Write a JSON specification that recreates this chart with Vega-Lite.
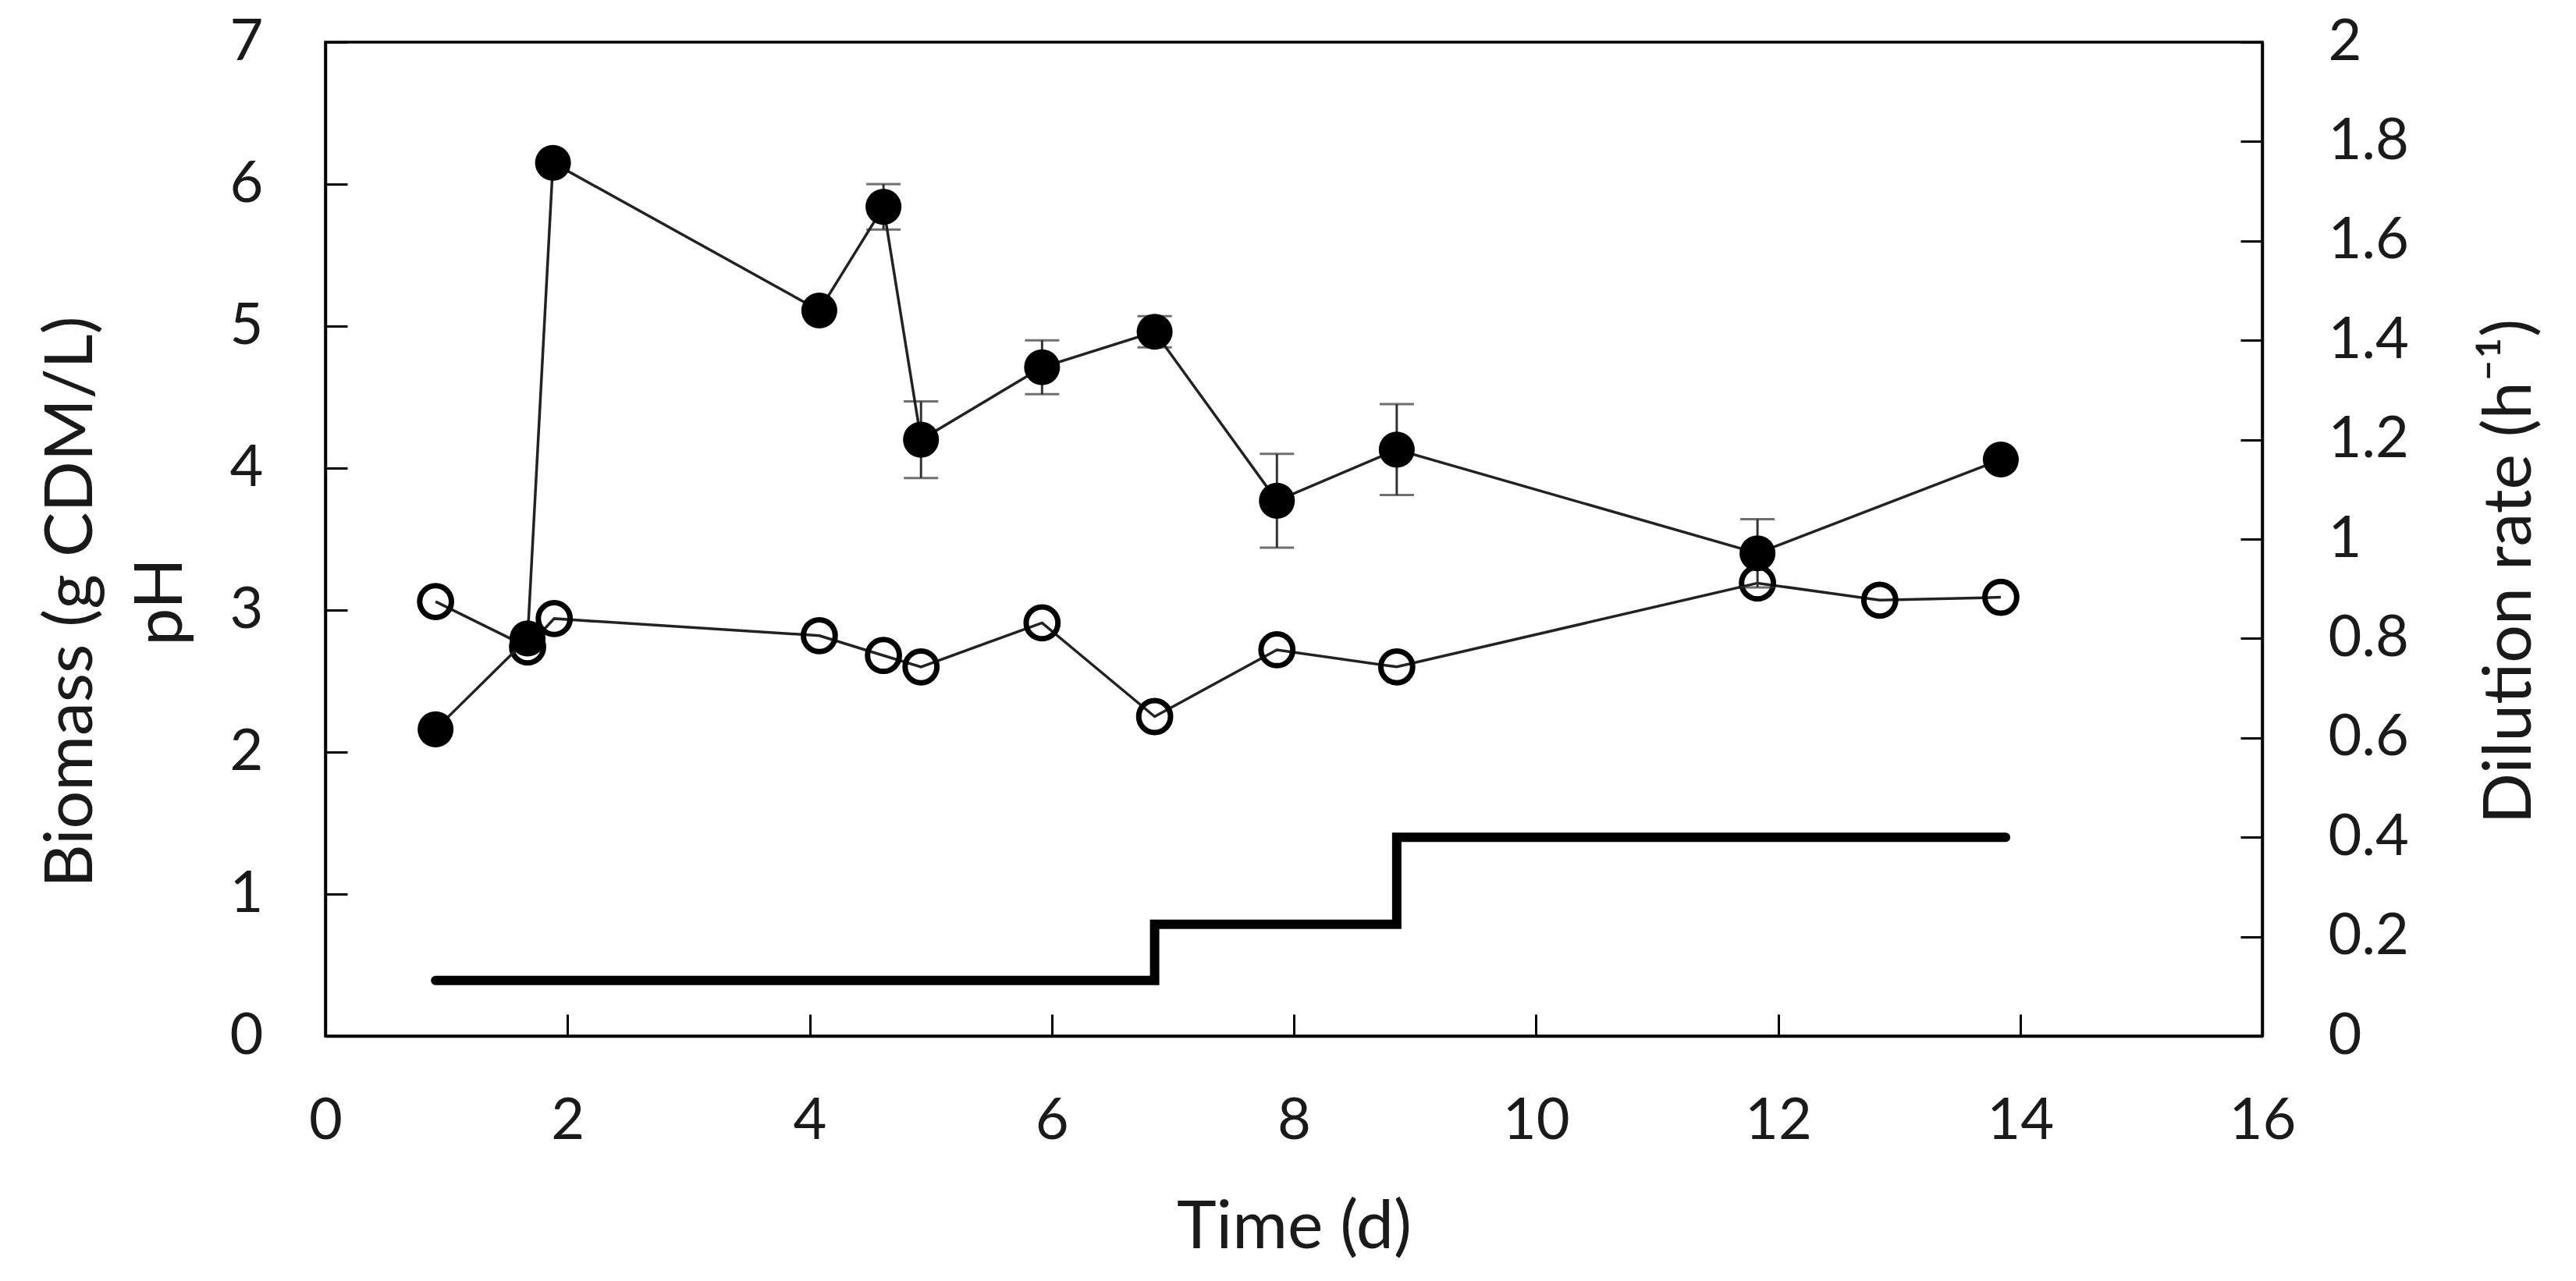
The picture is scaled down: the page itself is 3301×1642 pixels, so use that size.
{
  "$schema": "https://vega.github.io/schema/vega-lite/v6.json",
  "width": 2482,
  "height": 1274,
  "autosize": {"type": "none"},
  "padding": {"left": 417, "top": 54, "right": 402, "bottom": 314},
  "background": "white",
  "datasets": {
    "biomass": [
      {"t": 0.91, "biomass": 2.16, "err": 0},
      {"t": 1.67, "biomass": 2.80, "err": 0},
      {"t": 1.88, "biomass": 6.15, "err": 0},
      {"t": 4.08, "biomass": 5.11, "err": 0},
      {"t": 4.61, "biomass": 5.84, "err": 0.16},
      {"t": 4.92, "biomass": 4.20, "err": 0.27},
      {"t": 5.92, "biomass": 4.71, "err": 0.19},
      {"t": 6.85, "biomass": 4.96, "err": 0.11},
      {"t": 7.86, "biomass": 3.77, "err": 0.33},
      {"t": 8.85, "biomass": 4.13, "err": 0.32},
      {"t": 11.83, "biomass": 3.40, "err": 0.24},
      {"t": 13.84, "biomass": 4.06, "err": 0}
    ],
    "ph": [
      {"t": 0.91, "pH": 3.06},
      {"t": 1.67, "pH": 2.74},
      {"t": 1.89, "pH": 2.94},
      {"t": 4.08, "pH": 2.82},
      {"t": 4.61, "pH": 2.68},
      {"t": 4.92, "pH": 2.60},
      {"t": 5.92, "pH": 2.91},
      {"t": 6.85, "pH": 2.25},
      {"t": 7.86, "pH": 2.72},
      {"t": 8.85, "pH": 2.60},
      {"t": 11.83, "pH": 3.19},
      {"t": 12.84, "pH": 3.07},
      {"t": 13.84, "pH": 3.09}
    ],
    "dilution": [
      {"t": 0.91, "D": 0.112},
      {"t": 6.85, "D": 0.225},
      {"t": 8.85, "D": 0.40},
      {"t": 13.88, "D": 0.40}
    ]
  },
  "encoding": {
    "x": {
      "field": "t",
      "type": "quantitative",
      "scale": {"domain": [0, 16], "nice": false, "zero": false},
      "axis": {
        "title": "Time (d)",
        "values": [0, 2, 4, 6, 8, 10, 12, 14, 16],
        "format": "d",
        "labelPadding": 101,
        "titlePadding": 57,
        "labelFlush": false,
        "labelOverlap": false
      }
    }
  },
  "layer": [
    {
      "data": {"name": "dilution"},
      "mark": {"type": "line", "interpolate": "step-after", "color": "black", "strokeWidth": 12, "strokeCap": "round"},
      "encoding": {
        "y": {
          "field": "D",
          "type": "quantitative",
          "scale": {"domain": [0, 2], "nice": false, "zero": false},
          "axis": {
            "orient": "right",
            "title": "Dilution rate (h⁻¹)",
            "titleAngle": -90,
            "titleBaseline": "top",
            "titleY": 678,
            "values": [0, 0.2, 0.4, 0.6, 0.8, 1, 1.2, 1.4, 1.6, 1.8, 2],
            "format": "~g",
            "labelPadding": 112,
            "titlePadding": 88,
            "labelFlush": false,
            "labelOverlap": false
          }
        }
      }
    },
    {
      "data": {"name": "ph"},
      "mark": {"type": "line", "color": "#222222", "strokeWidth": 3.5},
      "encoding": {
        "y": {
          "field": "pH",
          "type": "quantitative",
          "scale": {"domain": [0, 7], "nice": false, "zero": false},
          "axis": {
            "orient": "left",
            "title": ["Biomass (g CDM/L)", "pH"],
            "titleLineHeight": 115,
            "titleY": 717,
            "values": [0, 1, 2, 3, 4, 5, 6, 7],
            "format": "d",
            "labelPadding": 108,
            "titlePadding": 44,
            "labelFlush": false,
            "labelOverlap": false
          }
        }
      }
    },
    {
      "data": {"name": "ph"},
      "mark": {"type": "point", "shape": "circle", "filled": false, "fill": null, "stroke": "black", "strokeWidth": 7, "size": 1662, "opacity": 1},
      "encoding": {
        "y": {"field": "pH", "type": "quantitative", "scale": {"domain": [0, 7], "nice": false, "zero": false}, "axis": null}
      }
    },
    {
      "data": {"name": "biomass"},
      "transform": [{"filter": "datum.err > 0"}],
      "mark": {"type": "errorbar", "ticks": {"size": 44, "thickness": 3, "color": "#333333"}, "rule": {"strokeWidth": 3, "color": "#333333"}},
      "encoding": {
        "y": {"field": "biomass", "type": "quantitative", "scale": {"domain": [0, 7], "nice": false, "zero": false}, "axis": null},
        "yError": {"field": "err"}
      }
    },
    {
      "data": {"name": "biomass"},
      "mark": {"type": "line", "color": "#222222", "strokeWidth": 3.5},
      "encoding": {
        "y": {"field": "biomass", "type": "quantitative", "scale": {"domain": [0, 7], "nice": false, "zero": false}, "axis": null}
      }
    },
    {
      "data": {"name": "biomass"},
      "mark": {"type": "point", "shape": "circle", "filled": true, "color": "black", "size": 2124, "opacity": 1},
      "encoding": {
        "y": {"field": "biomass", "type": "quantitative", "scale": {"domain": [0, 7], "nice": false, "zero": false}, "axis": null}
      }
    }
  ],
  "resolve": {"scale": {"y": "independent"}},
  "config": {
    "font": "Lato",
    "view": {"stroke": "black", "strokeWidth": 3.5},
    "axis": {
      "grid": false,
      "domainColor": "black",
      "domainWidth": 3.5,
      "tickColor": "black",
      "tickWidth": 3,
      "tickSize": -28,
      "labelFont": "Lato",
      "labelFontSize": 74,
      "labelColor": "#1a1a1a",
      "titleFont": "Lato",
      "titleFontSize": 86,
      "titleFontWeight": "normal",
      "titleColor": "#1a1a1a"
    }
  }
}
